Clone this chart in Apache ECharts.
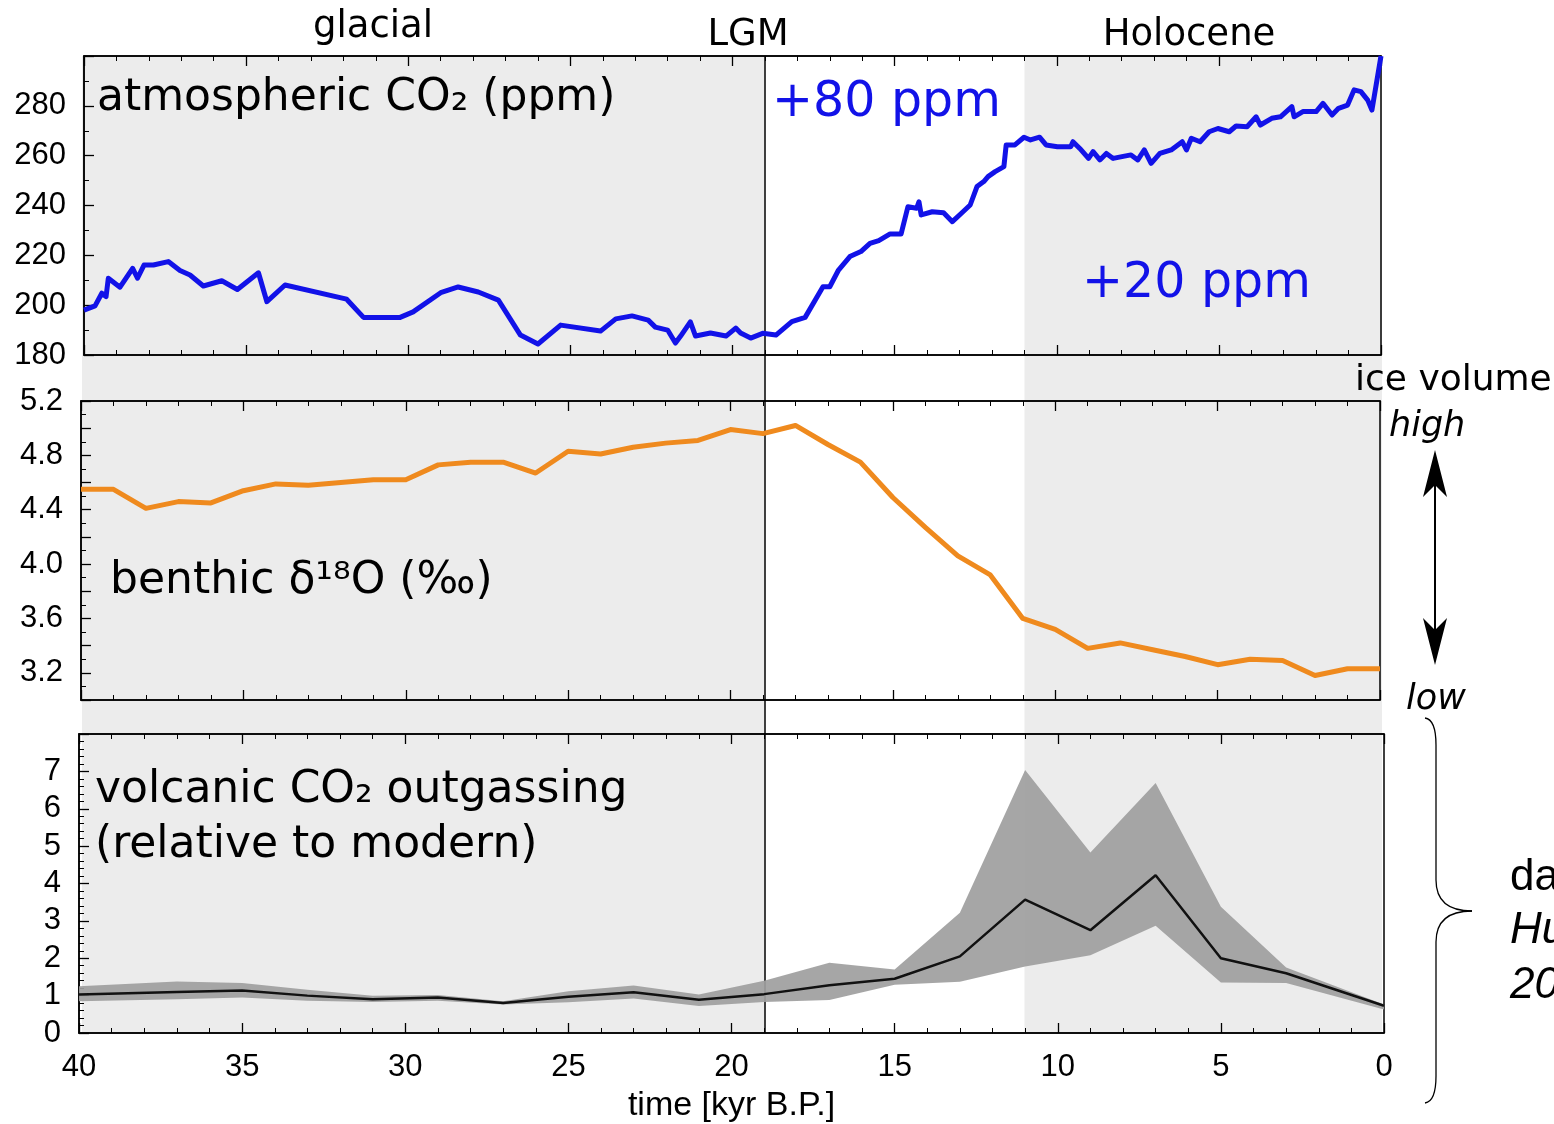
<!DOCTYPE html>
<html>
<head>
<meta charset="utf-8">
<script src="https://cdn.jsdelivr.net/npm/echarts@6/dist/echarts.min.js"></script>
<style>
  html, body { margin: 0; padding: 0; background: #fff; }
  #chart { width: 1554px; height: 1124px; }
</style>
</head>
<body>
<div id="chart"></div>
<script>
// periods (kyr B.P.)
const glacialSpan = [40, 19];
const holoceneSpan = [11, 0];
const lgmTime = 19;

// atmospheric CO2 (ppm)
const co2Time = [40.0, 39.66, 39.45, 39.32, 39.25, 38.89, 38.5, 38.35, 38.15, 37.86, 37.4, 37.04, 36.73, 36.32,
  35.75, 35.27, 34.62, 34.36, 33.8, 31.9, 31.38, 30.25, 29.85, 29.0, 28.46, 27.84, 27.22, 26.54, 26.0, 25.3,
  24.07, 23.6, 23.1, 22.6, 22.38, 22.0, 21.76, 21.6, 21.3, 21.14, 20.68, 20.2, 19.9, 19.75, 19.44, 19.07,
  18.66, 18.17, 17.76, 17.21, 17.0, 16.73, 16.38, 16.04, 15.76, 15.49, 15.14, 14.8, 14.59, 14.32, 14.25,
  14.18, 13.84, 13.49, 13.22, 12.94, 12.67, 12.46, 12.25, 12.12, 11.9, 11.63, 11.56, 11.29, 11.01, 10.81,
  10.53, 10.33, 9.98, 9.57, 9.5, 9.29, 9.02, 8.88, 8.67, 8.47, 8.26, 7.99, 7.71, 7.5, 7.3, 7.09, 6.82, 6.47,
  6.13, 6.0, 5.85, 5.58, 5.3, 5.03, 4.68, 4.47, 4.13, 3.85, 3.72, 3.37, 3.1, 2.75, 2.68, 2.41, 2.0, 1.79,
  1.51, 1.31, 1.03, 0.83, 0.62, 0.41, 0.28, 0.21, 0.0];
const co2Ppm = [198, 199.7, 204.8, 203.4, 210.8, 207.2, 214.8, 210.8, 216.1, 216.1, 217.5, 213.9, 212.1, 207.7,
  209.8, 206.3, 213, 201.4, 208.1, 202.4, 195.1, 195.1, 197.3, 205, 207.3, 205.3, 202, 188, 184.4, 192,
  189.6, 194.5, 195.7, 194, 191.2, 190, 184.8, 187.6, 193.3, 187.6, 188.8, 187.6, 190.8, 188.8, 186.8, 188.7,
  188, 193.4, 195.1, 207.4, 207.4, 214.1, 219.5, 221.5, 224.8, 225.9, 228.6, 228.6, 239.5, 238.9, 241.5,
  236.2, 237.5, 237.1, 233.5, 236.9, 240.2, 247.6, 249.6, 251.6, 253.6, 255.6, 264.3, 264.3, 267.4, 266.3,
  267.4, 264.3, 263.6, 263.6, 265.6, 262.9, 258.9, 261.6, 258.3, 260.9, 258.9, 259.6, 260.3, 258.3, 262.3, 256.9, 260.9, 262.3,
  265.6, 262.3, 267, 265.6, 269.6, 270.9, 269.6, 271.9, 271.6, 275.6, 272.3, 275, 275.6, 279.7, 275.6, 277.7, 277.7, 281,
  276.3, 279, 280.3, 286.4, 285.7, 282.3, 278.3, 283.7, 300];

// benthic d18O (permil)
const d18oTime = [40, 39, 38, 37, 36, 35, 34, 33, 32, 31, 30, 29, 28, 27, 26, 25, 24, 23, 22, 21, 20,
  19, 18, 17, 16, 15, 14, 13, 12, 11, 10, 9, 8, 7, 6, 5, 4, 3, 2, 1, 0];
const d18oVal = [4.55, 4.55, 4.41, 4.46, 4.45, 4.54, 4.59, 4.58, 4.60, 4.62, 4.62, 4.73, 4.75, 4.75, 4.67,
  4.83, 4.81, 4.86, 4.89, 4.91, 4.99, 4.96, 5.02, 4.88, 4.75, 4.49, 4.27, 4.06, 3.92, 3.60, 3.52, 3.38,
  3.42, 3.37, 3.32, 3.26, 3.30, 3.29, 3.18, 3.23, 3.23];

// volcanic CO2 outgassing relative to modern
const volcTime = [40, 37, 35, 33, 31, 29, 27, 25, 23, 21, 19, 17, 15, 13, 11, 9, 7, 5, 3, 0];
const volcMean = [1.03, 1.1, 1.14, 1.0, 0.9, 0.95, 0.8, 0.97, 1.09, 0.89, 1.04, 1.28, 1.45, 2.05, 3.57, 2.75, 4.22, 2.0, 1.6, 0.73];
const volcHigh = [1.25, 1.38, 1.34, 1.16, 1.0, 1.02, 0.85, 1.12, 1.27, 1.03, 1.4, 1.88, 1.7, 3.22, 7.04, 4.83, 6.69, 3.38, 1.75, 0.76];
const volcLow = [0.85, 0.9, 0.95, 0.86, 0.83, 0.86, 0.76, 0.82, 0.92, 0.72, 0.83, 0.88, 1.29, 1.37, 1.78, 2.08, 2.87, 1.35, 1.34, 0.63];

const chart = echarts.init(document.getElementById('chart'));

const tickFont = 'Liberation Sans';
const textFont = 'DejaVu Sans';

function timeAxis(gridIndex, position, labels) {
  return {
    type: 'value',
    gridIndex: gridIndex,
    position: position,
    min: 0,
    max: 40,
    interval: 5,
    inverse: true,
    axisLine: { show: true, onZero: false, lineStyle: { color: '#000', width: 1.5 } },
    axisTick: { show: true, inside: true, length: 10, lineStyle: { color: '#000', width: 1.3 } },
    minorTick: { show: true, splitNumber: 5, length: 5, lineStyle: { color: '#000', width: 1 } },
    splitLine: { show: false },
    axisLabel: { show: labels, color: '#000', fontFamily: tickFont, fontSize: 31, margin: 19 },
    name: labels ? 'time [kyr B.P.]' : '',
    nameLocation: 'middle',
    nameGap: 56,
    nameTextStyle: { color: '#000', fontFamily: tickFont, fontSize: 34 },
    z: 4
  };
}

function valueAxis(gridIndex, min, max, interval, minorSplit, fmt) {
  return {
    type: 'value',
    gridIndex: gridIndex,
    min: min,
    max: max,
    interval: interval,
    axisLine: { show: true, onZero: false, lineStyle: { color: '#000', width: 1.5 } },
    axisTick: { show: true, inside: true, length: 10, lineStyle: { color: '#000', width: 1.3 } },
    minorTick: { show: true, splitNumber: minorSplit, length: 5, lineStyle: { color: '#000', width: 1 } },
    splitLine: { show: false },
    axisLabel: { color: '#000', fontFamily: tickFont, fontSize: 31, margin: 18, formatter: fmt },
    z: 4
  };
}

function txt(x, y, s, size, opts) {
  return {
    type: 'text', x: x, y: y, z: 20,
    style: Object.assign({
      text: s, fill: '#000', font: size + 'px "' + textFont + '"',
      align: 'left', verticalAlign: 'middle'
    }, opts || {})
  };
}

function curve(x1, y1, cx1, cy1, cx2, cy2, x2, y2) {
  return {
    type: 'bezierCurve', z: 20,
    shape: { x1: x1, y1: y1, cpx1: cx1, cpy1: cy1, cpx2: cx2, cpy2: cy2, x2: x2, y2: y2 },
    style: { stroke: '#000', fill: null, lineWidth: 1.3 }
  };
}

function seg(x1, y1, x2, y2, w) {
  return {
    type: 'line', z: 20,
    shape: { x1: x1, y1: y1, x2: x2, y2: y2 },
    style: { stroke: '#000', lineWidth: w }
  };
}

const option = {
  animation: false,
  backgroundColor: '#fff',
  grid: [
    { left: 84, top: 56, width: 1297, height: 299, show: true, borderColor: '#000', borderWidth: 1.5, backgroundColor: 'transparent', z: 4 },
    { left: 81, top: 401, width: 1299, height: 299, show: true, borderColor: '#000', borderWidth: 1.5, backgroundColor: 'transparent', z: 4 },
    { left: 79, top: 734, width: 1305, height: 299, show: true, borderColor: '#000', borderWidth: 1.5, backgroundColor: 'transparent', z: 4 },
    { left: 82, top: 56, width: 1300, height: 977, show: false }
  ],
  xAxis: [
    { type: 'value', gridIndex: 3, min: 0, max: 40, inverse: true, show: false },
    timeAxis(0, 'bottom', false),
    timeAxis(0, 'top', false),
    timeAxis(1, 'bottom', false),
    timeAxis(1, 'top', false),
    timeAxis(2, 'bottom', true),
    timeAxis(2, 'top', false)
  ],
  yAxis: [
    { type: 'value', gridIndex: 3, min: 0, max: 1, show: false },
    valueAxis(0, 180, 300, 20, 2, v => (v === 300 ? '' : String(v))),
    valueAxis(1, 3.0, 5.2, 0.2, 2, v => (Math.round(v * 10) % 4 === 0 ? v.toFixed(1) : '')),
    valueAxis(2, 0, 8, 1, 5, v => (v === 8 ? '' : String(v)))
  ],
  series: [
    {
      // glacial / Holocene shading across all panels
      type: 'line', xAxisIndex: 0, yAxisIndex: 0, silent: true, z: 0,
      data: [[40, 0], [0, 0]], symbol: 'none', lineStyle: { opacity: 0 },
      markArea: {
        silent: true,
        itemStyle: { color: '#ececec' },
        data: [
          [{ xAxis: glacialSpan[0] }, { xAxis: glacialSpan[1] }],
          [{ xAxis: holoceneSpan[0] }, { xAxis: holoceneSpan[1] }]
        ]
      }
    },
    {
      type: 'line', xAxisIndex: 1, yAxisIndex: 1, z: 5,
      data: co2Time.map((t, i) => [t, co2Ppm[i]]),
      symbol: 'none', lineStyle: { color: '#1212e8', width: 5, join: 'round' }
    },
    {
      type: 'line', xAxisIndex: 3, yAxisIndex: 2, z: 5,
      data: d18oTime.map((t, i) => [t, d18oVal[i]]),
      symbol: 'none', lineStyle: { color: '#ef8a1e', width: 5, join: 'round' }
    },
    {
      type: 'custom', xAxisIndex: 5, yAxisIndex: 3, z: 5, silent: true,
      data: volcTime.map((t, i) => [t, volcLow[i], volcHigh[i]]),
      encode: { x: 0, y: [1, 2] },
      renderItem: function (params, api) {
        if (params.dataIndex !== 0) return null;
        const pts = [];
        for (let i = 0; i < volcTime.length; i++) pts.push(api.coord([volcTime[i], volcHigh[i]]));
        for (let i = volcTime.length - 1; i >= 0; i--) pts.push(api.coord([volcTime[i], volcLow[i]]));
        return { type: 'polygon', shape: { points: pts }, style: { fill: '#9e9e9e', opacity: 0.92 } };
      }
    },
    {
      type: 'line', xAxisIndex: 5, yAxisIndex: 3, z: 6,
      data: volcTime.map((t, i) => [t, volcMean[i]]),
      symbol: 'none', lineStyle: { color: '#111', width: 2.5 }
    },
    {
      // LGM marker through all panels
      type: 'line', xAxisIndex: 0, yAxisIndex: 0, silent: true, z: 10,
      data: [[lgmTime, 0]], symbol: 'none', lineStyle: { opacity: 0 },
      markLine: {
        silent: true, symbol: ['none', 'none'], label: { show: false },
        lineStyle: { color: '#000', width: 1.5, type: 'solid' },
        data: [{ xAxis: lgmTime }]
      }
    }
  ],
  graphic: [
    txt(373, 27, 'glacial', 37, { align: 'center' }),
    txt(748, 35, 'LGM', 37, { align: 'center' }),
    txt(1189, 35, 'Holocene', 37, { align: 'center' }),
    txt(97, 99, 'atmospheric CO₂ (ppm)', 44),
    txt(772, 103, '+80 ppm', 49, { fill: '#1212e8' }),
    txt(1082, 284, '+20 ppm', 49, { fill: '#1212e8' }),
    txt(110, 582, 'benthic δ¹⁸O (‰)', 44),
    txt(95, 791, 'volcanic CO₂ outgassing', 44),
    txt(95, 846, '(relative to modern)', 44),
    txt(1355, 381, 'ice volume', 36),
    txt(1389, 427, 'high', 35, { font: 'italic 35px "' + textFont + '"' }),
    txt(1406, 700, 'low', 35, { font: 'italic 35px "' + textFont + '"' }),
    txt(1510, 878, 'data', 44, { font: '44px "' + tickFont + '"' }),
    txt(1510, 931, 'Huybers', 44, { font: 'italic 44px "' + tickFont + '"' }),
    txt(1510, 986, '2009', 44, { font: 'italic 44px "' + tickFont + '"' }),
    // ice volume double arrow
    seg(1435, 480, 1435, 635, 2),
    {
      type: 'polygon', z: 20,
      shape: { points: [[1435, 450], [1447, 497], [1435, 485], [1423, 497]] },
      style: { fill: '#000' }
    },
    {
      type: 'polygon', z: 20,
      shape: { points: [[1435, 665], [1447, 618], [1435, 630], [1423, 618]] },
      style: { fill: '#000' }
    },
    // curly brace next to the volcanic panel
    curve(1425, 718, 1432, 719, 1436, 727, 1436, 745),
    seg(1436, 745, 1436, 880, 1.3),
    curve(1436, 880, 1436, 900, 1448, 911, 1472, 911),
    curve(1472, 911, 1448, 911, 1436, 922, 1436, 942),
    seg(1436, 942, 1436, 1076, 1.3),
    curve(1436, 1076, 1436, 1094, 1432, 1102, 1425, 1103)
  ]
};

chart.setOption(option);
</script>
</body>
</html>
